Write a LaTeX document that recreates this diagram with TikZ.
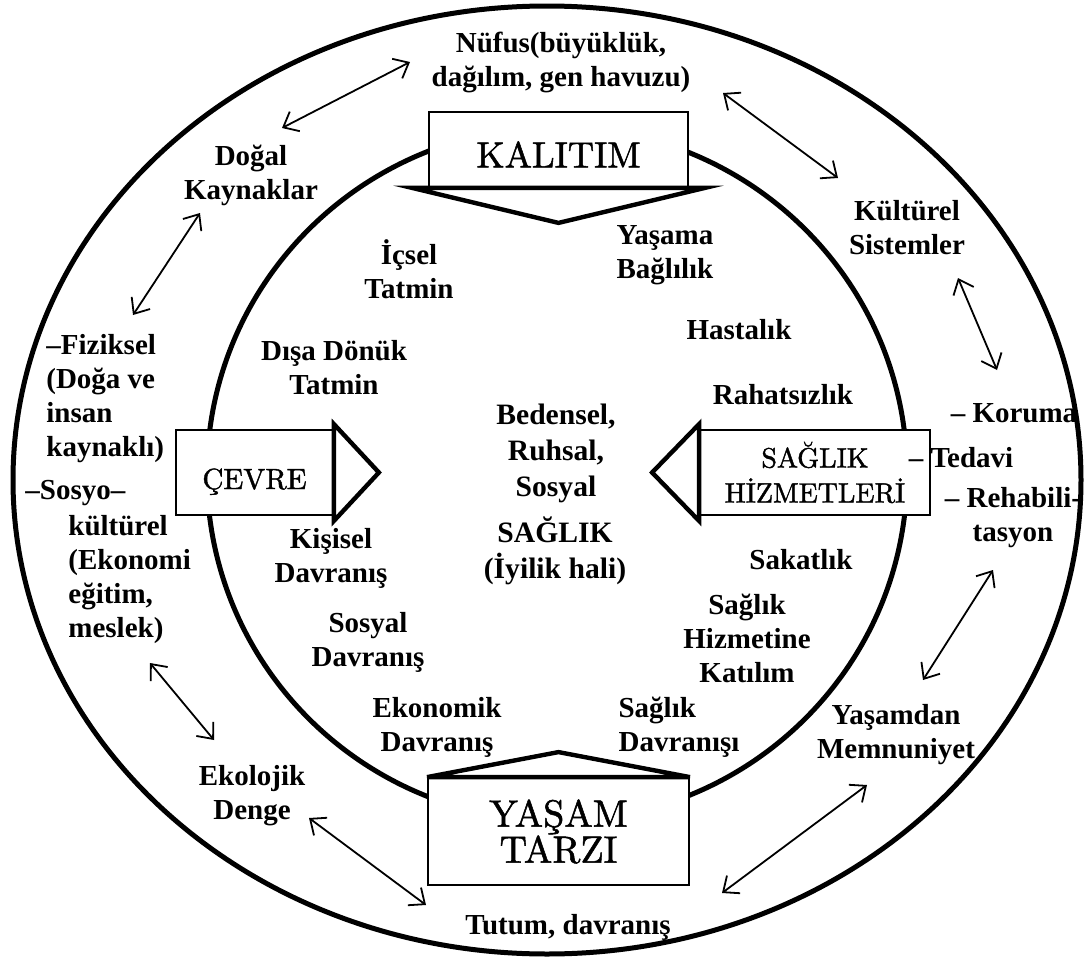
\documentclass[tikz,border=0pt]{standalone}
\usepackage{fontspec}
\setmainfont{Liberation Serif}
\newfontfamily\boxfont{lmroman10-regular.otf}[FakeBold=1.4]
\usetikzlibrary{arrows.meta}

\begin{document}
\begin{tikzpicture}[x=0.5pt, y=-0.5pt,
  ring/.style={line width=2.5pt},
  box/.style={draw, line width=0.9pt, fill=white, inner sep=0pt, align=center},
  wedge/.style={line width=2.2pt, fill=white},
  txt/.style={font=\bfseries\fontsize{14.5pt}{17pt}\selectfont, align=center, inner sep=0pt},
  mid/.style={txt, font=\bfseries\fontsize{14.8pt}{18pt}\selectfont},
  link/.style={{Straight Barb[length=6.5pt,width=11pt]}-{Straight Barb[length=6.5pt,width=11pt]}, line width=0.9pt}]

\useasboundingbox (0,0) rectangle (1089,959);

% Rings
\draw[ring] (547,480) ellipse (267pt and 237pt);     % outer ring
\draw[ring] (557,474) ellipse (175pt and 173.5pt);   % inner ring

% Boxes
\node[box, minimum width=129.5pt, minimum height=37.5pt, text height=17.9pt, text depth=0pt, font=\boxfont\fontsize{18.2pt}{20pt}\selectfont] (kalitim) at (558.5,149.5) {KALITIM};
\node[box, minimum width=78.5pt, minimum height=42.5pt, text height=16.5pt, text depth=0pt, font=\boxfont\fontsize{14.6pt}{18pt}\selectfont] (cevre) at (254.5,472.5) {ÇEVRE};
\node[box, minimum width=115pt, minimum height=42.5pt, font=\boxfont\fontsize{14pt}{17.5pt}\selectfont] (hizmet) at (815,472.5) {SAĞLIK\\HİZMETLERİ};
\node[box, minimum width=130.5pt, minimum height=53.5pt, font=\boxfont\fontsize{19pt}{18pt}\selectfont] (yasam) at (558.5,831.5) {YAŞAM\\TARZI};

% Wedges on the boxes
\draw[wedge] ([xshift=-8pt]kalitim.south west) -- ([xshift=8pt]kalitim.south east) -- ([yshift=-17.5pt]kalitim.south) -- cycle; % down
\draw[wedge] ([yshift=2.5pt]cevre.north east) -- ([yshift=-2.5pt]cevre.south east) -- ([xshift=22.5pt]cevre.east) -- cycle;  % right
\draw[wedge] ([yshift=2.5pt]hizmet.north west) -- ([yshift=-2.5pt]hizmet.south west) -- ([xshift=-23.5pt]hizmet.west) -- cycle; % left
\draw[wedge] (yasam.north west) -- (yasam.north east) -- ([yshift=12.5pt]yasam.north) -- cycle; % up

% Labels, outer ring
\node[txt] (nufus) at (561,62) {Nüfus(büyüklük,\\dağılım, gen havuzu)};
\node[txt] (dogal) at (251,175) {Doğal\\Kaynaklar};
\node[txt] (kulturel) at (907,228) {Kültürel\\Sistemler};
\node[txt, align=left, anchor=west] (fiziksel) at (46,399) {–Fiziksel\\(Doğa ve\\insan\\kaynaklı)};
\node[txt, anchor=west] (sosyo) at (25,493) {–Sosyo–};
\node[txt, align=left, anchor=west] (kult) at (68,580) {kültürel\\(Ekonomi\\eğitim,\\meslek)};
\node[txt] (koruma) at (1014,413) {– Koruma};
\node[txt] (rehab) at (1013,518) {– Rehabili-\\tasyon};
\node[txt] (memnun) at (896,735) {Yaşamdan\\Memnuniyet};
\node[txt] (ekolojik) at (252,796) {Ekolojik\\Denge};
\node[txt] (tutum) at (568,927) {Tutum, davranış};
\node[txt] (tedavi) at (961,458) {– Tedavi};           % over the box edge

% Labels, inner ring
\node[txt] (icsel) at (409,269) {İçsel\\Tatmin};
\node[txt] (yasama) at (665,255) {Yaşama\\Bağlılık};
\node[txt] (hastalik) at (739,330) {Hastalık};
\node[txt] (disa) at (334,368) {Dışa Dönük\\Tatmin};
\node[txt] (rahatsiz) at (783,395) {Rahatsızlık};
\node[mid] (beden) at (556,453) {Bedensel,\\Ruhsal,\\Sosyal};
\node[mid] (saglik) at (555,551) {SAĞLIK\\(İyilik hali)};
\node[txt] (kisisel) at (331,558) {Kişisel\\Davranış};
\node[txt] (sakat) at (801,560) {Sakatlık};
\node[txt] (sosyal) at (368,642) {Sosyal\\Davranış};
\node[txt] (katilim) at (747,638) {Sağlık\\Hizmetine\\Katılım};
\node[txt] (ekonomik) at (437,727) {Ekonomik\\Davranış};
\node[txt, align=left] (sagdav) at (679,727) {Sağlık\\Davranışı};

% Arrow ends
\coordinate (dogalN) at (282,128);   % Doğal -> Nüfus
\coordinate (nufusD) at (410,62);
\coordinate (nufusK) at (723,93);    % Nüfus -> Kültürel
\coordinate (kulturN) at (838,178);
\coordinate (dogalF) at (200,213);   % Doğal -> Fiziksel
\coordinate (fizikD) at (133,315);
\coordinate (kulturK) at (958,278);  % Kültürel -> Koruma
\coordinate (korumaK) at (997,370);
\coordinate (rehabY) at (993,570);   % Rehabilitasyon -> Yaşamdan
\coordinate (memnunR) at (923,680);
\coordinate (memnunT) at (867,785);  % Yaşamdan -> Tutum
\coordinate (tutumM) at (722,893);
\coordinate (ekoloT) at (309,818);   % Ekolojik -> Tutum
\coordinate (tutumE) at (426,905);
\coordinate (sosyoE) at (150,663);   % Sosyo -> Ekolojik
\coordinate (ekoloS) at (214,740);

% Arrows
\draw[link] (dogalN) -- (nufusD);
\draw[link] (nufusK) -- (kulturN);
\draw[link] (dogalF) -- (fizikD);
\draw[link] (kulturK) -- (korumaK);
\draw[link] (rehabY) -- (memnunR);
\draw[link] (memnunT) -- (tutumM);
\draw[link] (ekoloT) -- (tutumE);
\draw[link] (sosyoE) -- (ekoloS);

\end{tikzpicture}
\end{document}
